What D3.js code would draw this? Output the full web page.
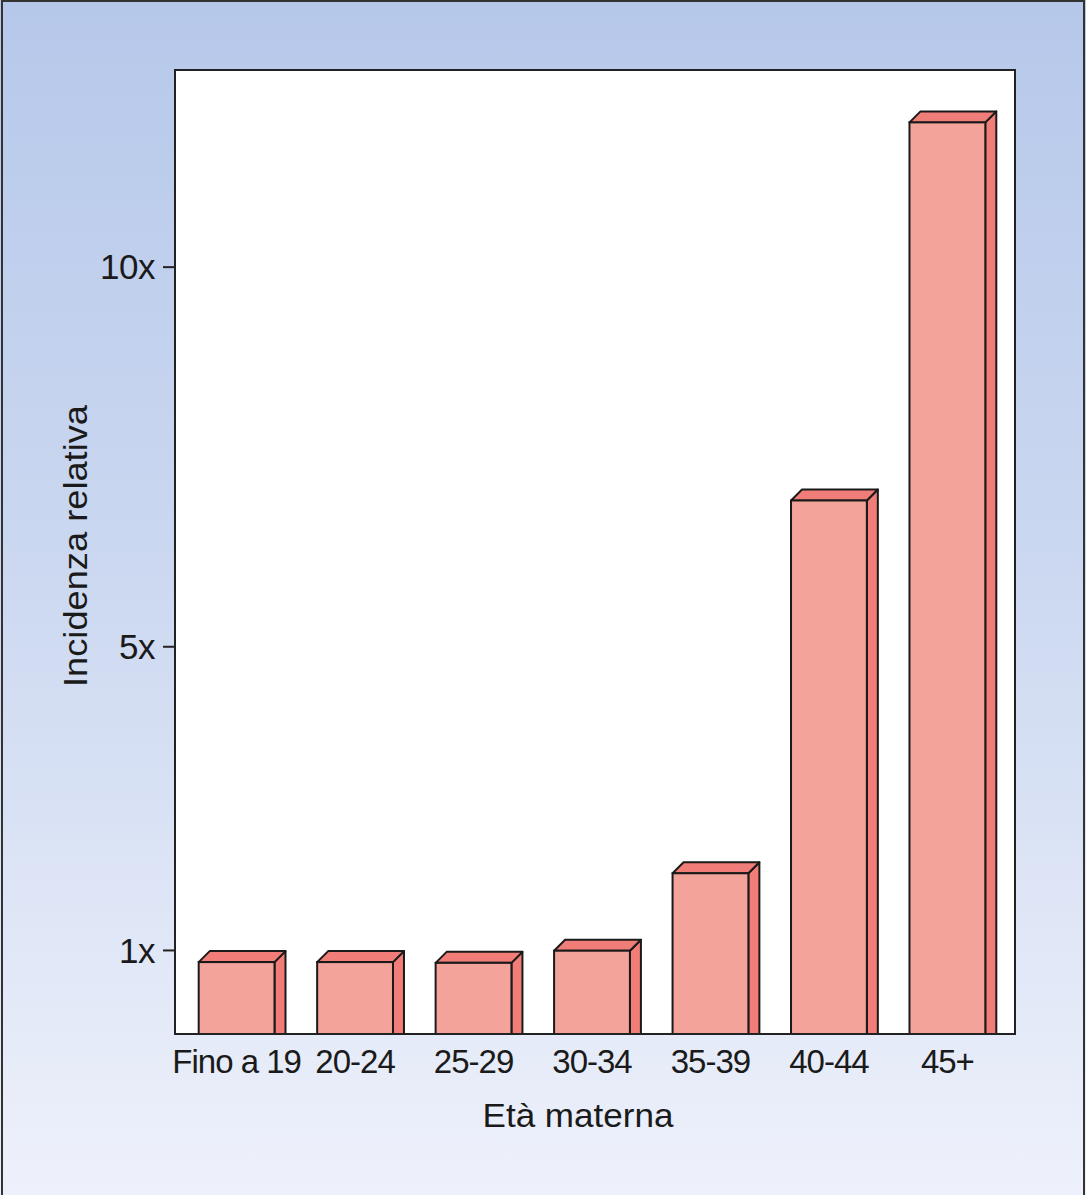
<!DOCTYPE html>
<html>
<head>
<meta charset="utf-8">
<script src="https://cdn.jsdelivr.net/npm/d3@7"></script>
<style>
  html, body { margin: 0; padding: 0; background: #fff; }
  svg { display: block; }
  text { font-family: "Liberation Sans", Arial, Helvetica, sans-serif; fill: #1a1a1a; }
</style>
</head>
<body>
<svg id="chart" width="1086" height="1195"></svg>
<script>
// Relative incidence by maternal age group
const categories = ["Fino a 19", "20-24", "25-29", "30-34", "35-39", "40-44", "45+"];
const values = [0.84, 0.84, 0.83, 0.99, 2.01, 6.92, 11.9];
const tickValues = [1, 5, 10];
const tickLabels = ["1x", "5x", "10x"];
const xTitle = "Età materna";
const yTitle = "Incidenza relativa";

const W = 1086, H = 1195;
const plot = { left: 175, top: 70, right: 1015, bottom: 1034 };
const depth = 11;

const svg = d3.select("#chart");

// background gradient
const defs = svg.append("defs");
const grad = defs.append("linearGradient")
  .attr("id", "bg").attr("x1", 0).attr("y1", 0).attr("x2", 0).attr("y2", 1);
grad.append("stop").attr("offset", "0%").attr("stop-color", "#b6c8ea");
grad.append("stop").attr("offset", "45%").attr("stop-color", "#cad7f0");
grad.append("stop").attr("offset", "100%").attr("stop-color", "#eef1fb");

svg.append("rect").attr("x", 0).attr("y", 0).attr("width", W).attr("height", H)
  .attr("fill", "url(#bg)");
svg.append("rect").attr("x", 2).attr("y", 1).attr("width", W - 4).attr("height", H + 10)
  .attr("fill", "none").attr("stroke", "#333").attr("stroke-width", 2);

// plot panel
svg.append("rect")
  .attr("x", plot.left).attr("y", plot.top)
  .attr("width", plot.right - plot.left).attr("height", plot.bottom - plot.top)
  .attr("fill", "#fff");

const x = d3.scaleBand()
  .domain(categories)
  .range([plot.left, plot.right - 6])
  .paddingInner(0.36)
  .paddingOuter(0.2);

const y = d3.scaleLinear()
  .domain([-0.107, 12.59])
  .range([plot.bottom, plot.top]);

const bw = x.bandwidth();
const y0 = plot.bottom;
const edge = "#1a1a1a";

const bars = svg.append("g").selectAll("g")
  .data(categories.map((c, i) => ({ c, v: values[i] })))
  .join("g");

// side face
bars.append("path")
  .attr("d", d => {
    const xl = x(d.c), yt = y(d.v);
    return `M${xl + bw},${yt} L${xl + bw + depth},${yt - depth} L${xl + bw + depth},${y0} L${xl + bw},${y0} Z`;
  })
  .attr("fill", "#f07d77").attr("stroke", edge).attr("stroke-width", 2)
  .attr("stroke-linejoin", "round");

// top face
bars.append("path")
  .attr("d", d => {
    const xl = x(d.c), yt = y(d.v);
    return `M${xl},${yt} L${xl + depth},${yt - depth} L${xl + bw + depth},${yt - depth} L${xl + bw},${yt} Z`;
  })
  .attr("fill", "#f07d77").attr("stroke", edge).attr("stroke-width", 2)
  .attr("stroke-linejoin", "round");

// front face
bars.append("rect")
  .attr("x", d => x(d.c))
  .attr("y", d => y(d.v))
  .attr("width", bw)
  .attr("height", d => y0 - y(d.v))
  .attr("fill", "#f4a39a").attr("stroke", edge).attr("stroke-width", 2);

// panel frame
svg.append("rect")
  .attr("x", plot.left).attr("y", plot.top)
  .attr("width", plot.right - plot.left).attr("height", plot.bottom - plot.top)
  .attr("fill", "none").attr("stroke", "#222").attr("stroke-width", 2);

// y axis
const yAxis = svg.append("g")
  .attr("transform", `translate(${plot.left},0)`)
  .call(d3.axisLeft(y).tickValues(tickValues)
    .tickFormat((d, i) => tickLabels[i])
    .tickSize(12).tickSizeOuter(0).tickPadding(8));
yAxis.select(".domain").remove();
yAxis.selectAll(".tick line").attr("stroke", "#222").attr("stroke-width", 2);
yAxis.selectAll(".tick text")
  .style("font-family", '"Liberation Sans", Arial, sans-serif')
  .style("font-size", "35px").style("letter-spacing", "-0.5px")
  .attr("fill", "#1a1a1a").attr("dy", "0.35em");

// x axis labels
const xAxis = svg.append("g")
  .attr("transform", `translate(0,${plot.bottom})`)
  .call(d3.axisBottom(x).tickSize(0).tickPadding(0));
xAxis.select(".domain").remove();
xAxis.selectAll(".tick text")
  .style("font-family", '"Liberation Sans", Arial, sans-serif')
  .style("font-size", "33px").style("letter-spacing", "-1px")
  .attr("fill", "#1a1a1a")
  .attr("y", 39).attr("dy", 0);

// axis titles
svg.append("text")
  .attr("x", 578).attr("y", 1127)
  .attr("text-anchor", "middle")
  .attr("textLength", 191).attr("lengthAdjust", "spacingAndGlyphs")
  .style("font-size", "34px")
  .text(xTitle);

svg.append("text")
  .attr("transform", "translate(87,546) rotate(-90)")
  .attr("text-anchor", "middle")
  .attr("textLength", 282).attr("lengthAdjust", "spacingAndGlyphs")
  .style("font-size", "34px")
  .text(yTitle);
</script>
</body>
</html>
